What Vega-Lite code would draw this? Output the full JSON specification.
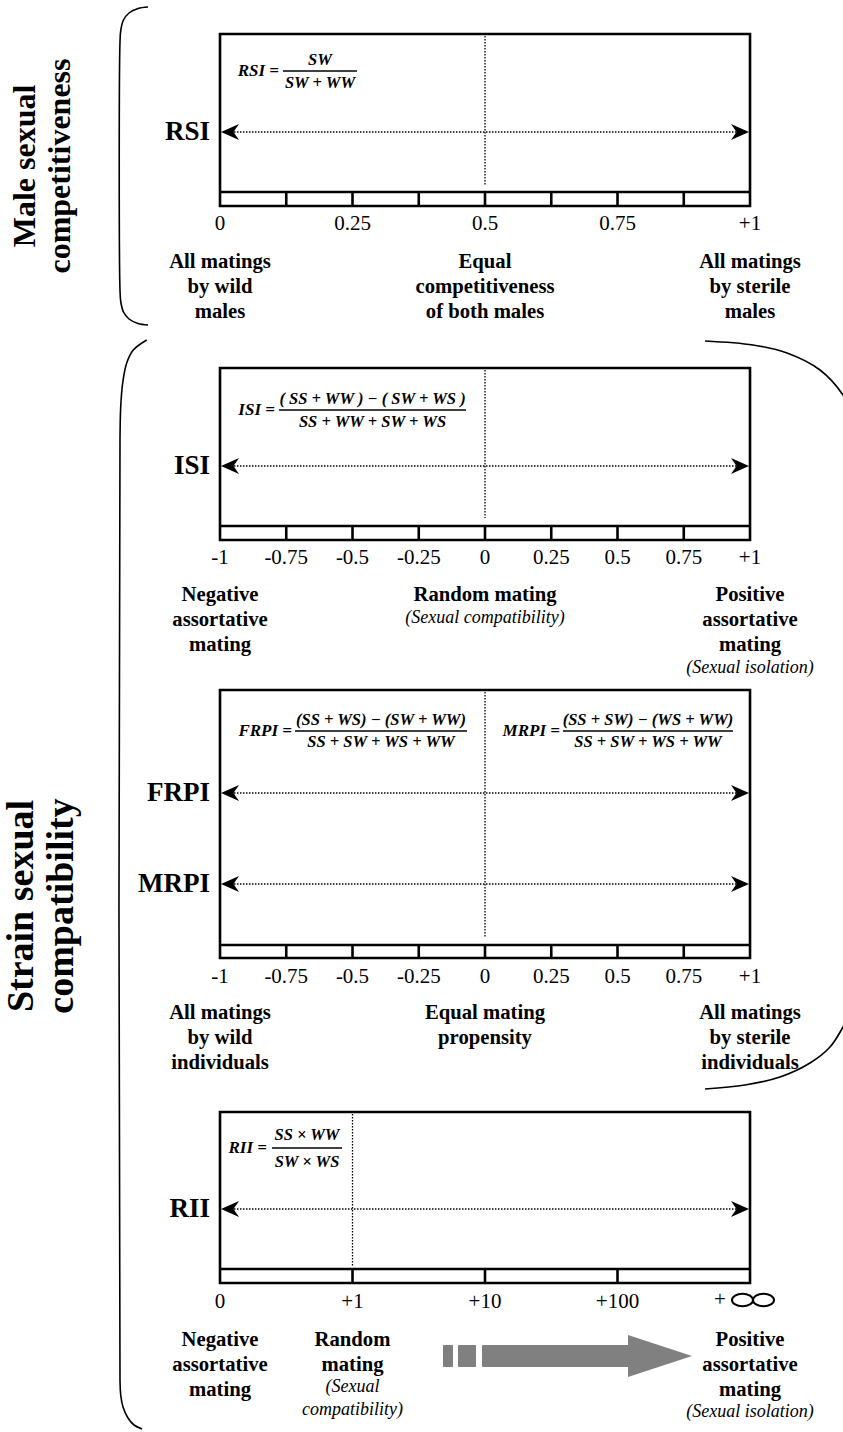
{
  "$schema": "https://vega.github.io/schema/vega-lite/v6.json",
  "width": 843,
  "height": 1432,
  "autosize": {"type": "fit", "contains": "padding"},
  "padding": 0,
  "background": "white",
  "config": {"view": {"stroke": null}, "text": {"font": "Liberation Serif"}},
  "datasets": {
    "boxes": [
      {"panel": "RSI", "x": -1, "x2": 1, "y": 34, "y2": 206},
      {"panel": "ISI", "x": -1, "x2": 1, "y": 368, "y2": 540},
      {"panel": "RPI", "x": -1, "x2": 1, "y": 690, "y2": 958},
      {"panel": "RII", "x": -1, "x2": 1, "y": 1112, "y2": 1283}
    ],
    "strips": [
      {"panel": "RSI", "x": -1, "x2": 1, "y": 192},
      {"panel": "ISI", "x": -1, "x2": 1, "y": 526},
      {"panel": "RPI", "x": -1, "x2": 1, "y": 945},
      {"panel": "RII", "x": -1, "x2": 1, "y": 1269}
    ],
    "stripTicks": [
      {"panel": "RSI", "x": -0.75, "y": 192, "y2": 206},
      {"panel": "RSI", "x": -0.5, "y": 192, "y2": 206},
      {"panel": "RSI", "x": -0.25, "y": 192, "y2": 206},
      {"panel": "RSI", "x": 0, "y": 192, "y2": 206},
      {"panel": "RSI", "x": 0.25, "y": 192, "y2": 206},
      {"panel": "RSI", "x": 0.5, "y": 192, "y2": 206},
      {"panel": "RSI", "x": 0.75, "y": 192, "y2": 206},
      {"panel": "ISI", "x": -0.75, "y": 526, "y2": 540},
      {"panel": "ISI", "x": -0.5, "y": 526, "y2": 540},
      {"panel": "ISI", "x": -0.25, "y": 526, "y2": 540},
      {"panel": "ISI", "x": 0, "y": 526, "y2": 540},
      {"panel": "ISI", "x": 0.25, "y": 526, "y2": 540},
      {"panel": "ISI", "x": 0.5, "y": 526, "y2": 540},
      {"panel": "ISI", "x": 0.75, "y": 526, "y2": 540},
      {"panel": "RPI", "x": -0.75, "y": 945, "y2": 958},
      {"panel": "RPI", "x": -0.5, "y": 945, "y2": 958},
      {"panel": "RPI", "x": -0.25, "y": 945, "y2": 958},
      {"panel": "RPI", "x": 0, "y": 945, "y2": 958},
      {"panel": "RPI", "x": 0.25, "y": 945, "y2": 958},
      {"panel": "RPI", "x": 0.5, "y": 945, "y2": 958},
      {"panel": "RPI", "x": 0.75, "y": 945, "y2": 958},
      {"panel": "RII", "x": -0.5, "y": 1269, "y2": 1283},
      {"panel": "RII", "x": 0, "y": 1269, "y2": 1283},
      {"panel": "RII", "x": 0.5, "y": 1269, "y2": 1283}
    ],
    "dotted": [
      {"panel": "RSI", "x": 0, "y": 36, "y2": 185},
      {"panel": "ISI", "x": 0, "y": 370, "y2": 518},
      {"panel": "RPI", "x": 0, "y": 692, "y2": 938},
      {"panel": "RII", "x": -0.5, "y": 1114, "y2": 1267}
    ],
    "arrows": [
      {"index": "RSI", "x": -0.97, "x2": 0.97, "y": 132},
      {"index": "ISI", "x": -0.97, "x2": 0.97, "y": 466},
      {"index": "FRPI", "x": -0.97, "x2": 0.97, "y": 793},
      {"index": "MRPI", "x": -0.97, "x2": 0.97, "y": 884},
      {"index": "RII", "x": -0.97, "x2": 0.97, "y": 1209}
    ],
    "arrowheads": [
      {"index": "RSI", "dir": "left", "x": -0.9962, "y": 132},
      {"index": "RSI", "dir": "right", "x": 0.9962, "y": 132},
      {"index": "ISI", "dir": "left", "x": -0.9962, "y": 466},
      {"index": "ISI", "dir": "right", "x": 0.9962, "y": 466},
      {"index": "FRPI", "dir": "left", "x": -0.9962, "y": 793},
      {"index": "FRPI", "dir": "right", "x": 0.9962, "y": 793},
      {"index": "MRPI", "dir": "left", "x": -0.9962, "y": 884},
      {"index": "MRPI", "dir": "right", "x": 0.9962, "y": 884},
      {"index": "RII", "dir": "left", "x": -0.9962, "y": 1209},
      {"index": "RII", "dir": "right", "x": 0.9962, "y": 1209}
    ],
    "tickLabels": [
      {"x": -1, "y": 224, "text": "0"},
      {"x": -0.5, "y": 224, "text": "0.25"},
      {"x": 0, "y": 224, "text": "0.5"},
      {"x": 0.5, "y": 224, "text": "0.75"},
      {"x": 1, "y": 224, "text": "+1"},
      {"x": -1, "y": 558, "text": "-1"},
      {"x": -0.75, "y": 558, "text": "-0.75"},
      {"x": -0.5, "y": 558, "text": "-0.5"},
      {"x": -0.25, "y": 558, "text": "-0.25"},
      {"x": 0, "y": 558, "text": "0"},
      {"x": 0.25, "y": 558, "text": "0.25"},
      {"x": 0.5, "y": 558, "text": "0.5"},
      {"x": 0.75, "y": 558, "text": "0.75"},
      {"x": 1, "y": 558, "text": "+1"},
      {"x": -1, "y": 977, "text": "-1"},
      {"x": -0.75, "y": 977, "text": "-0.75"},
      {"x": -0.5, "y": 977, "text": "-0.5"},
      {"x": -0.25, "y": 977, "text": "-0.25"},
      {"x": 0, "y": 977, "text": "0"},
      {"x": 0.25, "y": 977, "text": "0.25"},
      {"x": 0.5, "y": 977, "text": "0.5"},
      {"x": 0.75, "y": 977, "text": "0.75"},
      {"x": 1, "y": 977, "text": "+1"},
      {"x": -1, "y": 1302, "text": "0"},
      {"x": -0.5, "y": 1302, "text": "+1"},
      {"x": 0, "y": 1302, "text": "+10"},
      {"x": 0.5, "y": 1302, "text": "+100"},
      {"x": 0.8868, "y": 1300, "text": "+"}
    ],
    "infinity": [{"x": 1.0113, "y": 1300}],
    "rowLabels": [
      {"x": -1.0377, "y": 132, "text": "RSI"},
      {"x": -1.0377, "y": 466, "text": "ISI"},
      {"x": -1.0377, "y": 793, "text": "FRPI"},
      {"x": -1.0377, "y": 884, "text": "MRPI"},
      {"x": -1.0377, "y": 1209, "text": "RII"}
    ],
    "headings": [
      {"x": -1, "y": 262, "text": "All matings"},
      {"x": -1, "y": 287, "text": "by wild"},
      {"x": -1, "y": 312, "text": "males"},
      {"x": 0, "y": 262, "text": "Equal"},
      {"x": 0, "y": 287, "text": "competitiveness"},
      {"x": 0, "y": 312, "text": "of both males"},
      {"x": 1, "y": 262, "text": "All matings"},
      {"x": 1, "y": 287, "text": "by sterile"},
      {"x": 1, "y": 312, "text": "males"},
      {"x": -1, "y": 595, "text": "Negative"},
      {"x": -1, "y": 620, "text": "assortative"},
      {"x": -1, "y": 645, "text": "mating"},
      {"x": 0, "y": 595, "text": "Random mating"},
      {"x": 1, "y": 595, "text": "Positive"},
      {"x": 1, "y": 620, "text": "assortative"},
      {"x": 1, "y": 645, "text": "mating"},
      {"x": -1, "y": 1013, "text": "All matings"},
      {"x": -1, "y": 1038, "text": "by wild"},
      {"x": -1, "y": 1063, "text": "individuals"},
      {"x": 0, "y": 1013, "text": "Equal mating"},
      {"x": 0, "y": 1038, "text": "propensity"},
      {"x": 1, "y": 1013, "text": "All matings"},
      {"x": 1, "y": 1038, "text": "by sterile"},
      {"x": 1, "y": 1063, "text": "individuals"},
      {"x": -1, "y": 1340, "text": "Negative"},
      {"x": -1, "y": 1365, "text": "assortative"},
      {"x": -1, "y": 1390, "text": "mating"},
      {"x": -0.5, "y": 1340, "text": "Random"},
      {"x": -0.5, "y": 1365, "text": "mating"},
      {"x": 1, "y": 1340, "text": "Positive"},
      {"x": 1, "y": 1365, "text": "assortative"},
      {"x": 1, "y": 1390, "text": "mating"}
    ],
    "notes": [
      {"x": 0, "y": 618, "text": "(Sexual compatibility)"},
      {"x": 1, "y": 668, "text": "(Sexual isolation)"},
      {"x": -0.5, "y": 1387, "text": "(Sexual"},
      {"x": -0.5, "y": 1410, "text": "compatibility)"},
      {"x": 1, "y": 1412, "text": "(Sexual isolation)"}
    ],
    "formulaNames": [
      {"x": -0.7774, "y": 71, "text": "RSI ="},
      {"x": -0.7925, "y": 410, "text": "ISI ="},
      {"x": -0.7283, "y": 731, "text": "FRPI ="},
      {"x": 0.283, "y": 731, "text": "MRPI ="},
      {"x": -0.8226, "y": 1148, "text": "RII ="}
    ],
    "formulaParts": [
      {"x": -0.6226, "y": 60, "text": "SW"},
      {"x": -0.6226, "y": 83, "text": "SW + WW"},
      {"x": -0.4245, "y": 399, "text": "( SS + WW ) − ( SW + WS )"},
      {"x": -0.4245, "y": 422, "text": "SS + WW + SW + WS"},
      {"x": -0.3925, "y": 720, "text": "(SS + WS) − (SW + WW)"},
      {"x": -0.3925, "y": 742, "text": "SS + SW + WS + WW"},
      {"x": 0.6151, "y": 720, "text": "(SS + SW) − (WS + WW)"},
      {"x": 0.6151, "y": 742, "text": "SS + SW + WS + WW"},
      {"x": -0.6717, "y": 1135, "text": "SS × WW"},
      {"x": -0.6717, "y": 1162, "text": "SW × WS"}
    ],
    "fractionBars": [
      {"x": -0.7623, "x2": -0.483, "y": 71},
      {"x": -0.7774, "x2": -0.0717, "y": 410},
      {"x": -0.717, "x2": -0.0679, "y": 731},
      {"x": 0.2943, "x2": 0.9358, "y": 731},
      {"x": -0.8038, "x2": -0.5396, "y": 1148}
    ],
    "sideLabels": [
      {"group": "male", "x": -1.6981, "y": 166, "text": "Male sexual"},
      {"group": "male", "x": -1.566, "y": 166, "text": "competitiveness"},
      {"group": "strain", "x": -1.7057, "y": 906, "text": "Strain sexual"},
      {"group": "strain", "x": -1.5547, "y": 906, "text": "compatibility"}
    ],
    "braces": [
      {"brace": "male", "i": 1, "x": -1.2717, "y": 7},
      {"brace": "male", "i": 2, "x": -1.3094, "y": 8.5},
      {"brace": "male", "i": 3, "x": -1.3434, "y": 13},
      {"brace": "male", "i": 4, "x": -1.3642, "y": 20},
      {"brace": "male", "i": 5, "x": -1.3743, "y": 30},
      {"brace": "male", "i": 6, "x": -1.3774, "y": 42},
      {"brace": "male", "i": 7, "x": -1.3774, "y": 290},
      {"brace": "male", "i": 8, "x": -1.3743, "y": 302},
      {"brace": "male", "i": 9, "x": -1.3642, "y": 312},
      {"brace": "male", "i": 10, "x": -1.3434, "y": 319},
      {"brace": "male", "i": 11, "x": -1.3094, "y": 323.5},
      {"brace": "male", "i": 12, "x": -1.2717, "y": 325},
      {"brace": "strain", "i": 1, "x": -1.2766, "y": 340},
      {"brace": "strain", "i": 2, "x": -1.3272, "y": 350},
      {"brace": "strain", "i": 3, "x": -1.3521, "y": 363},
      {"brace": "strain", "i": 4, "x": -1.3672, "y": 383},
      {"brace": "strain", "i": 5, "x": -1.3747, "y": 407},
      {"brace": "strain", "i": 6, "x": -1.3774, "y": 440},
      {"brace": "strain", "i": 7, "x": -1.3774, "y": 1380},
      {"brace": "strain", "i": 8, "x": -1.3747, "y": 1395},
      {"brace": "strain", "i": 9, "x": -1.366, "y": 1407},
      {"brace": "strain", "i": 10, "x": -1.3472, "y": 1418},
      {"brace": "strain", "i": 11, "x": -1.3245, "y": 1425},
      {"brace": "strain", "i": 12, "x": -1.2943, "y": 1429},
      {"brace": "rpi", "i": 1, "x": 0.8302, "y": 341},
      {"brace": "rpi", "i": 2, "x": 1.0113, "y": 345},
      {"brace": "rpi", "i": 3, "x": 1.1396, "y": 353},
      {"brace": "rpi", "i": 4, "x": 1.2642, "y": 370},
      {"brace": "rpi", "i": 5, "x": 1.3509, "y": 395},
      {"brace": "rpi", "i": 6, "x": 1.4151, "y": 430},
      {"brace": "rpi", "i": 7, "x": 1.4453, "y": 480},
      {"brace": "rpi", "i": 8, "x": 1.4528, "y": 550},
      {"brace": "rpi", "i": 9, "x": 1.4528, "y": 900},
      {"brace": "rpi", "i": 10, "x": 1.4377, "y": 960},
      {"brace": "rpi", "i": 11, "x": 1.4, "y": 1000},
      {"brace": "rpi", "i": 12, "x": 1.3509, "y": 1027},
      {"brace": "rpi", "i": 13, "x": 1.3019, "y": 1047},
      {"brace": "rpi", "i": 14, "x": 1.2264, "y": 1063},
      {"brace": "rpi", "i": 15, "x": 1.1132, "y": 1077},
      {"brace": "rpi", "i": 16, "x": 0.9811, "y": 1085},
      {"brace": "rpi", "i": 17, "x": 0.8302, "y": 1089}
    ],
    "grayBars": [
      {"x": -0.1585, "x2": -0.1208, "y": 1345, "y2": 1367},
      {"x": -0.1019, "x2": -0.034, "y": 1345, "y2": 1367},
      {"x": -0.0113, "x2": 0.5509, "y": 1345, "y2": 1367}
    ],
    "grayHead": [{"x": 0.6604, "y": 1356}]
  },
  "encoding": {
    "x": {"field": "x", "type": "quantitative", "scale": {"domain": [-1.8302, 1.3509], "nice": false, "zero": false}, "axis": null},
    "y": {"field": "y", "type": "quantitative", "scale": {"domain": [0, 1432], "reverse": true, "nice": false, "zero": false}, "axis": null}
  },
  "layer": [
    {
      "data": {"name": "boxes"},
      "mark": {"type": "rect", "fill": "white", "fillOpacity": 0, "stroke": "black", "strokeWidth": 2.6},
      "encoding": {"x2": {"field": "x2"}, "y2": {"field": "y2"}}
    },
    {
      "data": {"name": "strips"},
      "mark": {"type": "rule", "color": "black", "strokeWidth": 2.6},
      "encoding": {"x2": {"field": "x2"}}
    },
    {
      "data": {"name": "stripTicks"},
      "mark": {"type": "rule", "color": "black", "strokeWidth": 2.6},
      "encoding": {"y2": {"field": "y2"}}
    },
    {
      "data": {"name": "dotted"},
      "mark": {"type": "rule", "color": "black", "strokeWidth": 1.3, "strokeDash": [1.5, 1.5]},
      "encoding": {"y2": {"field": "y2"}}
    },
    {
      "data": {"name": "arrows"},
      "mark": {"type": "rule", "color": "black", "strokeWidth": 1.3, "strokeDash": [1.5, 1.5]},
      "encoding": {"x2": {"field": "x2"}}
    },
    {
      "data": {"name": "arrowheads"},
      "mark": {"type": "point", "filled": true, "color": "black", "opacity": 1, "size": 400, "strokeWidth": 0},
      "encoding": {
        "shape": {"field": "dir", "type": "nominal", "legend": null,
          "scale": {"domain": ["left", "right"], "range": ["M0,0 L1.8,-0.8 L1.25,0 L1.8,0.8 Z", "M0,0 L-1.8,-0.8 L-1.25,0 L-1.8,0.8 Z"]}}
      }
    },
    {
      "data": {"name": "tickLabels"},
      "mark": {"type": "text", "font": "Liberation Serif", "fontSize": 21, "align": "center", "baseline": "middle", "color": "black"},
      "encoding": {"text": {"field": "text"}}
    },
    {
      "data": {"name": "infinity"},
      "mark": {"type": "point", "filled": false, "color": "black", "opacity": 1, "size": 1764, "strokeWidth": 2,
        "shape": "M0,0 A0.5,0.3 0 1 1 -1,0 A0.5,0.3 0 1 1 0,0 M0,0 A0.5,0.3 0 1 0 1,0 A0.5,0.3 0 1 0 0,0"}
    },
    {
      "data": {"name": "rowLabels"},
      "mark": {"type": "text", "font": "Liberation Serif", "fontSize": 27, "fontWeight": "bold", "align": "right", "baseline": "middle", "color": "black"},
      "encoding": {"text": {"field": "text"}}
    },
    {
      "data": {"name": "headings"},
      "mark": {"type": "text", "font": "Liberation Serif", "fontSize": 20.7, "fontWeight": "bold", "align": "center", "baseline": "middle", "color": "black"},
      "encoding": {"text": {"field": "text"}}
    },
    {
      "data": {"name": "notes"},
      "mark": {"type": "text", "font": "Liberation Serif", "fontSize": 18, "fontStyle": "italic", "align": "center", "baseline": "middle", "color": "black"},
      "encoding": {"text": {"field": "text"}}
    },
    {
      "data": {"name": "formulaNames"},
      "mark": {"type": "text", "font": "Liberation Serif", "fontSize": 17, "fontStyle": "italic", "fontWeight": "bold", "align": "right", "baseline": "middle", "color": "black"},
      "encoding": {"text": {"field": "text"}}
    },
    {
      "data": {"name": "formulaParts"},
      "mark": {"type": "text", "font": "Liberation Serif", "fontSize": 16.5, "fontStyle": "italic", "fontWeight": "bold", "align": "center", "baseline": "middle", "color": "black"},
      "encoding": {"text": {"field": "text"}}
    },
    {
      "data": {"name": "fractionBars"},
      "mark": {"type": "rule", "color": "black", "strokeWidth": 1.3},
      "encoding": {"x2": {"field": "x2"}}
    },
    {
      "data": {"name": "sideLabels"},
      "transform": [{"filter": "datum.group === 'male'"}],
      "mark": {"type": "text", "font": "Liberation Serif", "fontSize": 32, "fontWeight": "bold", "angle": 270, "align": "center", "baseline": "alphabetic", "color": "black"},
      "encoding": {"text": {"field": "text"}}
    },
    {
      "data": {"name": "sideLabels"},
      "transform": [{"filter": "datum.group === 'strain'"}],
      "mark": {"type": "text", "font": "Liberation Serif", "fontSize": 38, "fontWeight": "bold", "angle": 270, "align": "center", "baseline": "alphabetic", "color": "black"},
      "encoding": {"text": {"field": "text"}}
    },
    {
      "data": {"name": "braces"},
      "mark": {"type": "line", "color": "black", "strokeWidth": 1.6, "interpolate": "catmull-rom", "clip": true},
      "encoding": {"detail": {"field": "brace"}, "order": {"field": "i"}}
    },
    {
      "data": {"name": "grayBars"},
      "mark": {"type": "rect", "color": "#808080", "cornerRadius": 1},
      "encoding": {"x2": {"field": "x2"}, "y2": {"field": "y2"}}
    },
    {
      "data": {"name": "grayHead"},
      "mark": {"type": "point", "filled": true, "color": "#808080", "opacity": 1, "size": 4096, "strokeWidth": 0,
        "shape": "M-1,-0.656 L1,0 L-1,0.656 Z"}
    }
  ]
}
